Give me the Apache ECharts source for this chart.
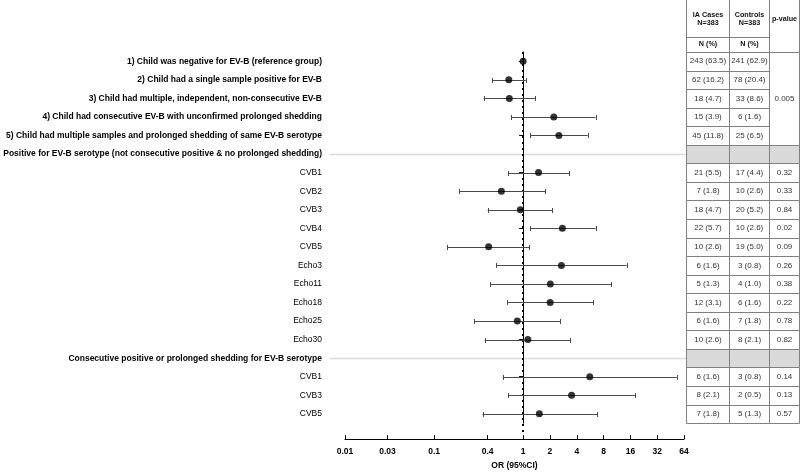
<!DOCTYPE html>
<html><head><meta charset="utf-8">
<script src="https://cdn.jsdelivr.net/npm/echarts@6/dist/echarts.min.js"></script>
<style>html,body{margin:0;padding:0;background:#fff}#c{width:800px;height:475px}</style>
</head><body><div id="c"></div>
<script>
const categories = [
  '1) Child was negative for EV-B (reference group)',
  '2) Child had a single sample positive for EV-B',
  '3) Child had multiple, independent, non-consecutive EV-B',
  '4) Child had consecutive EV-B with unconfirmed prolonged shedding',
  '5) Child had multiple samples and prolonged shedding of same EV-B serotype',
  'Positive for EV-B serotype (not consecutive positive & no prolonged shedding)',
  'CVB1','CVB2','CVB3','CVB4','CVB5','Echo3','Echo11','Echo18','Echo25','Echo30',
  'Consecutive positive or prolonged shedding for EV-B serotype',
  'CVB1','CVB3','CVB5'
];
const boldRows = [0,1,2,3,4,5,16];
const headerRows = [5,16];
const orValues = [1.0, 0.69, 0.70, 2.21, 2.52, null, 1.49, 0.57, 0.93, 2.76, 0.41, 2.69, 2.02, 2.01, 0.86, 1.13, null, 5.6, 3.5, 1.52];
const ciLower  = [null, 0.45, 0.36, 0.74, 1.20, null, 0.68, 0.19, 0.40, 1.19, 0.14, 0.50, 0.43, 0.66, 0.28, 0.37, null, 0.59, 0.68, 0.35];
const ciUpper  = [null, 1.07, 1.36, 6.5, 5.3, null, 3.28, 1.78, 2.12, 6.5, 1.17, 14.5, 9.7, 6.1, 2.62, 3.4, null, 53, 18, 6.8];
const xTickLabels = ['0.01','0.03','0.1','0.4','1','2','4','8','16','32','64'];
const casesN = ['243 (63.5)','62 (16.2)','18 (4.7)','15 (3.9)','45 (11.8)','','21 (5.5)','7 (1.8)','18 (4.7)','22 (5.7)','10 (2.6)','6 (1.6)','5 (1.3)','12 (3.1)','6 (1.6)','10 (2.6)','','6 (1.6)','8 (2.1)','7 (1.8)'];
const controlsN = ['241 (62.9)','78 (20.4)','33 (8.6)','6 (1.6)','25 (6.5)','','17 (4.4)','10 (2.6)','20 (5.2)','10 (2.6)','19 (5.0)','3 (0.8)','4 (1.0)','6 (1.6)','7 (1.8)','8 (2.1)','','3 (0.8)','2 (0.5)','5 (1.3)'];
const pValues = ['0.005','','','','','','0.32','0.33','0.84','0.02','0.09','0.26','0.38','0.22','0.78','0.82','','0.14','0.13','0.57'];
const pMergedSpan = 5; // first p-value cell spans rows 0..4
const tableHeader = [['IA Cases','N=383','N (%)'],['Controls','N=383','N (%)'],['p-value']];

const FONT = '"Liberation Sans", Arial, Helvetica, sans-serif';
const tickVals = xTickLabels.map(s => Math.log10(parseFloat(s)));
const colX = [686.5, 729.5, 769.5, 799.5];
const lineCol = '#808080';
const bodyFont = '8px ' + FONT;
const headFont = 'bold 7.2px ' + FONT;

const chart = echarts.init(document.getElementById('c'), null, {renderer:'canvas'});

const errData = [], ptData = [], rowData = [];
categories.forEach((c, i) => {
  rowData.push([i]);
  if (orValues[i] != null) ptData.push([Math.log10(orValues[i]), i]);
  if (ciLower[i] != null) errData.push([i, Math.log10(ciLower[i]), Math.log10(ciUpper[i])]);
});

const option = {
  animation: false,
  backgroundColor: '#fff',
  grid: { left: 345, right: 116, top: 52, height: 380, containLabel: false },
  xAxis: {
    type: 'value', min: -2, max: Math.log10(64), offset: 16,
    axisLine: { show: true, lineStyle: { color: '#000', width: 1 } },
    axisTick: { show: true, inside: true, length: 4, customValues: tickVals, lineStyle: { color: '#000' } },
    axisLabel: {
      customValues: tickVals, margin: 8, color: '#000', fontFamily: FONT, fontWeight: 'bold', fontSize: 8.5,
      formatter: v => { let best = 0, d = 1e9; tickVals.forEach((t, k) => { if (Math.abs(t - v) < d) { d = Math.abs(t - v); best = k; } }); return xTickLabels[best]; }
    },
    splitLine: { show: false },
    name: 'OR (95%CI)', nameLocation: 'middle', nameGap: 21,
    nameTextStyle: { color: '#000', fontFamily: FONT, fontWeight: 'bold', fontSize: 8.5 }
  },
  yAxis: {
    type: 'category', data: categories, inverse: true, offset: 15,
    axisLine: { show: true, lineStyle: { color: '#000', width: 1 } },
    axisTick: { show: true, alignWithLabel: true, length: 4, lineStyle: { color: '#000' } },
    axisLabel: {
      interval: 0, margin: 8,
      formatter: (v, i) => (boldRows.includes(i) ? '{b|' + v + '}' : '{n|' + v + '}'),
      rich: {
        b: { fontFamily: FONT, fontWeight: 'bold', fontSize: 8.5, color: '#000' },
        n: { fontFamily: FONT, fontWeight: 'normal', fontSize: 8.5, color: '#000' }
      }
    },
    splitLine: { show: false }
  },
  graphic: (function () {
    const g = [];
    const top = 0, mid = 37.5, bot = 52.5;
    colX.forEach(x => g.push({ type: 'line', shape: { x1: x, y1: top, x2: x, y2: bot }, style: { stroke: lineCol, lineWidth: 1 } }));
    g.push({ type: 'line', shape: { x1: colX[0], y1: mid, x2: colX[2], y2: mid }, style: { stroke: lineCol, lineWidth: 1 } });
    g.push({ type: 'line', shape: { x1: colX[0], y1: bot, x2: colX[3], y2: bot }, style: { stroke: lineCol, lineWidth: 1 } });
    for (let c = 0; c < 2; c++) {
      const cx = (colX[c] + colX[c + 1]) / 2;
      g.push({ type: 'text', style: { text: tableHeader[c][0], x: cx, y: 15, align: 'center', verticalAlign: 'middle', font: headFont, fill: '#111' } });
      g.push({ type: 'text', style: { text: tableHeader[c][1], x: cx, y: 23, align: 'center', verticalAlign: 'middle', font: headFont, fill: '#111' } });
      g.push({ type: 'text', style: { text: tableHeader[c][2], x: cx, y: 44.5, align: 'center', verticalAlign: 'middle', font: headFont, fill: '#111' } });
    }
    g.push({ type: 'text', style: { text: tableHeader[2][0], x: (colX[2] + colX[3]) / 2, y: 19.5, align: 'center', verticalAlign: 'middle', font: headFont, fill: '#111' } });
    return g;
  })(),
  series: [
    {
      type: 'custom', name: 'table', clip: false, silent: true, z: 1,
      data: rowData,
      renderItem: (params, api) => {
        const i = api.value(0);
        const yc = api.coord([0, i])[1];
        const h = api.size([0, 1])[1];
        const y0 = Math.round(yc - h / 2) + 0.5, y1 = Math.round(yc + h / 2) + 0.5;
        const children = [];
        const isHeader = headerRows.includes(i);
        if (isHeader) {
          const cs = params.coordSys;
          children.push({ type: 'line', shape: { x1: cs.x - 15, y1: Math.round(yc) + 0.5, x2: colX[0], y2: Math.round(yc) + 0.5 }, style: { stroke: '#dcdcdc', lineWidth: 1.5 } });
          children.push({ type: 'rect', shape: { x: colX[0], y: y0, width: colX[3] - colX[0], height: y1 - y0 }, style: { fill: '#d9d9d9', stroke: null } });
        }
        for (let c = 0; c < 2; c++) {
          children.push({ type: 'rect', shape: { x: colX[c], y: y0, width: colX[c + 1] - colX[c], height: y1 - y0 }, style: { fill: 'none', stroke: lineCol, lineWidth: 1 } });
          const txt = c === 0 ? casesN[i] : controlsN[i];
          if (txt) children.push({ type: 'text', style: { text: txt, x: (colX[c] + colX[c + 1]) / 2, y: yc, align: 'center', verticalAlign: 'middle', font: bodyFont, fill: '#333' } });
        }
        if (i === 0) {
          const yEnd = Math.round(yc - h / 2 + pMergedSpan * h) + 0.5;
          children.push({ type: 'rect', shape: { x: colX[2], y: y0, width: colX[3] - colX[2], height: yEnd - y0 }, style: { fill: 'none', stroke: lineCol, lineWidth: 1 } });
          children.push({ type: 'text', style: { text: pValues[0], x: (colX[2] + colX[3]) / 2, y: (y0 + yEnd) / 2, align: 'center', verticalAlign: 'middle', font: bodyFont, fill: '#333' } });
        } else if (i >= pMergedSpan) {
          children.push({ type: 'rect', shape: { x: colX[2], y: y0, width: colX[3] - colX[2], height: y1 - y0 }, style: { fill: 'none', stroke: lineCol, lineWidth: 1 } });
          if (pValues[i]) children.push({ type: 'text', style: { text: pValues[i], x: (colX[2] + colX[3]) / 2, y: yc, align: 'center', verticalAlign: 'middle', font: bodyFont, fill: '#333' } });
        }
        return { type: 'group', children };
      }
    },
    {
      type: 'custom', name: 'ref', clip: false, silent: true, z: 3,
      data: [[0, 0]],
      renderItem: (params, api) => {
        const x = Math.round(api.coord([api.value(0), 0])[0]);
        const cs = params.coordSys;
        return { type: 'line', shape: { x1: x, y1: cs.y, x2: x, y2: cs.y + cs.height + 11 }, style: { stroke: '#000', lineWidth: 2, lineDash: [2, 4] } };
      }
    },
    {
      type: 'custom', name: 'ci', clip: false, silent: true, z: 4,
      data: errData,
      encode: { x: [1, 2], y: 0 },
      renderItem: (params, api) => {
        const i = api.value(0);
        const p1 = api.coord([api.value(1), i]);
        const p2 = api.coord([api.value(2), i]);
        const y = Math.round(p1[1]) + 0.5;
        const st = { stroke: '#4a4a4a', lineWidth: 1 };
        return { type: 'group', children: [
          { type: 'line', shape: { x1: p1[0], y1: y, x2: p2[0], y2: y }, style: st },
          { type: 'line', shape: { x1: Math.round(p1[0]) + 0.5, y1: y - 2.5, x2: Math.round(p1[0]) + 0.5, y2: y + 2.5 }, style: st },
          { type: 'line', shape: { x1: Math.round(p2[0]) + 0.5, y1: y - 2.5, x2: Math.round(p2[0]) + 0.5, y2: y + 2.5 }, style: st }
        ] };
      }
    },
    {
      type: 'scatter', name: 'OR', z: 5, symbol: 'circle', symbolSize: 7,
      itemStyle: { color: '#000' },
      data: ptData
    }
  ]
};
chart.setOption(option);
</script>
</body></html>
